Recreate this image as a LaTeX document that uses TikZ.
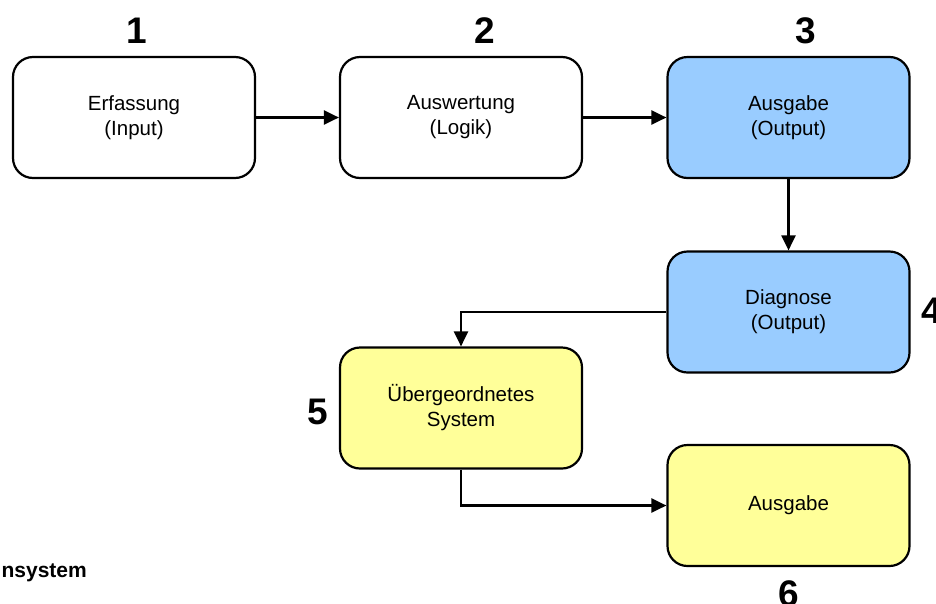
\documentclass[tikz,border=0pt]{standalone}
\usepackage{fontspec}
\setmainfont{Liberation Sans}
\usetikzlibrary{arrows.meta}
\definecolor{boxblue}{HTML}{99CCFF}
\definecolor{boxyellow}{HTML}{FFFF99}
\tikzset{
  procbox/.style={draw=black, line width=2.2pt, rounded corners=20pt,
    minimum width=242pt, minimum height=121pt, align=center, inner sep=0pt,
    font=\fontsize{20.5}{25}\selectfont},
  numlabel/.style={inner sep=0pt, anchor=base, font=\fontsize{37}{40}\selectfont\bfseries},
  flow/.style={line width=2.2pt, -{Triangle[length=15pt,width=14pt]}}
}
\begin{document}
\begin{tikzpicture}[x=1pt,y=-1pt]
\useasboundingbox (0,0) rectangle (936,603);
\node[procbox, fill=white] (b1) at (134,117.5) {Erfassung\\(Input)};
\node[procbox, fill=white] (b2) at (461,117.5) {Auswertung\\(Logik)};
\node[procbox, fill=boxblue] (b3) at (788.5,117.5) {Ausgabe\\(Output)};
\node[procbox, fill=boxblue] (b4) at (788.5,312) {Diagnose\\(Output)};
\node[procbox, fill=boxyellow] (b5) at (461,408) {Übergeordnetes\\System};
\node[procbox, fill=boxyellow] (b6) at (788.5,505.5) {Ausgabe};
\draw[flow] (b1) -- (b2);
\draw[flow] (b2) -- (b3);
\draw[flow] (b3) -- (b4);
\draw[flow] (b4.west) -| (b5.north);
\draw[flow] (b5.south) |- (b6.west);
\node[numlabel] (n1) at (137,43) {1};
\node[numlabel] (n2) at (485,43) {2};
\node[numlabel] (n3) at (806,43) {3};
\node[numlabel, anchor=base west] (n4) at (921,323) {4};
\node[numlabel] (n5) at (318,424) {5};
\node[numlabel] (n6) at (789,606) {6};
\node[inner sep=0pt, anchor=base east, font=\fontsize{21}{24}\selectfont\bfseries] (sys) at (87,577) {nsystem};
\end{tikzpicture}
\end{document}
